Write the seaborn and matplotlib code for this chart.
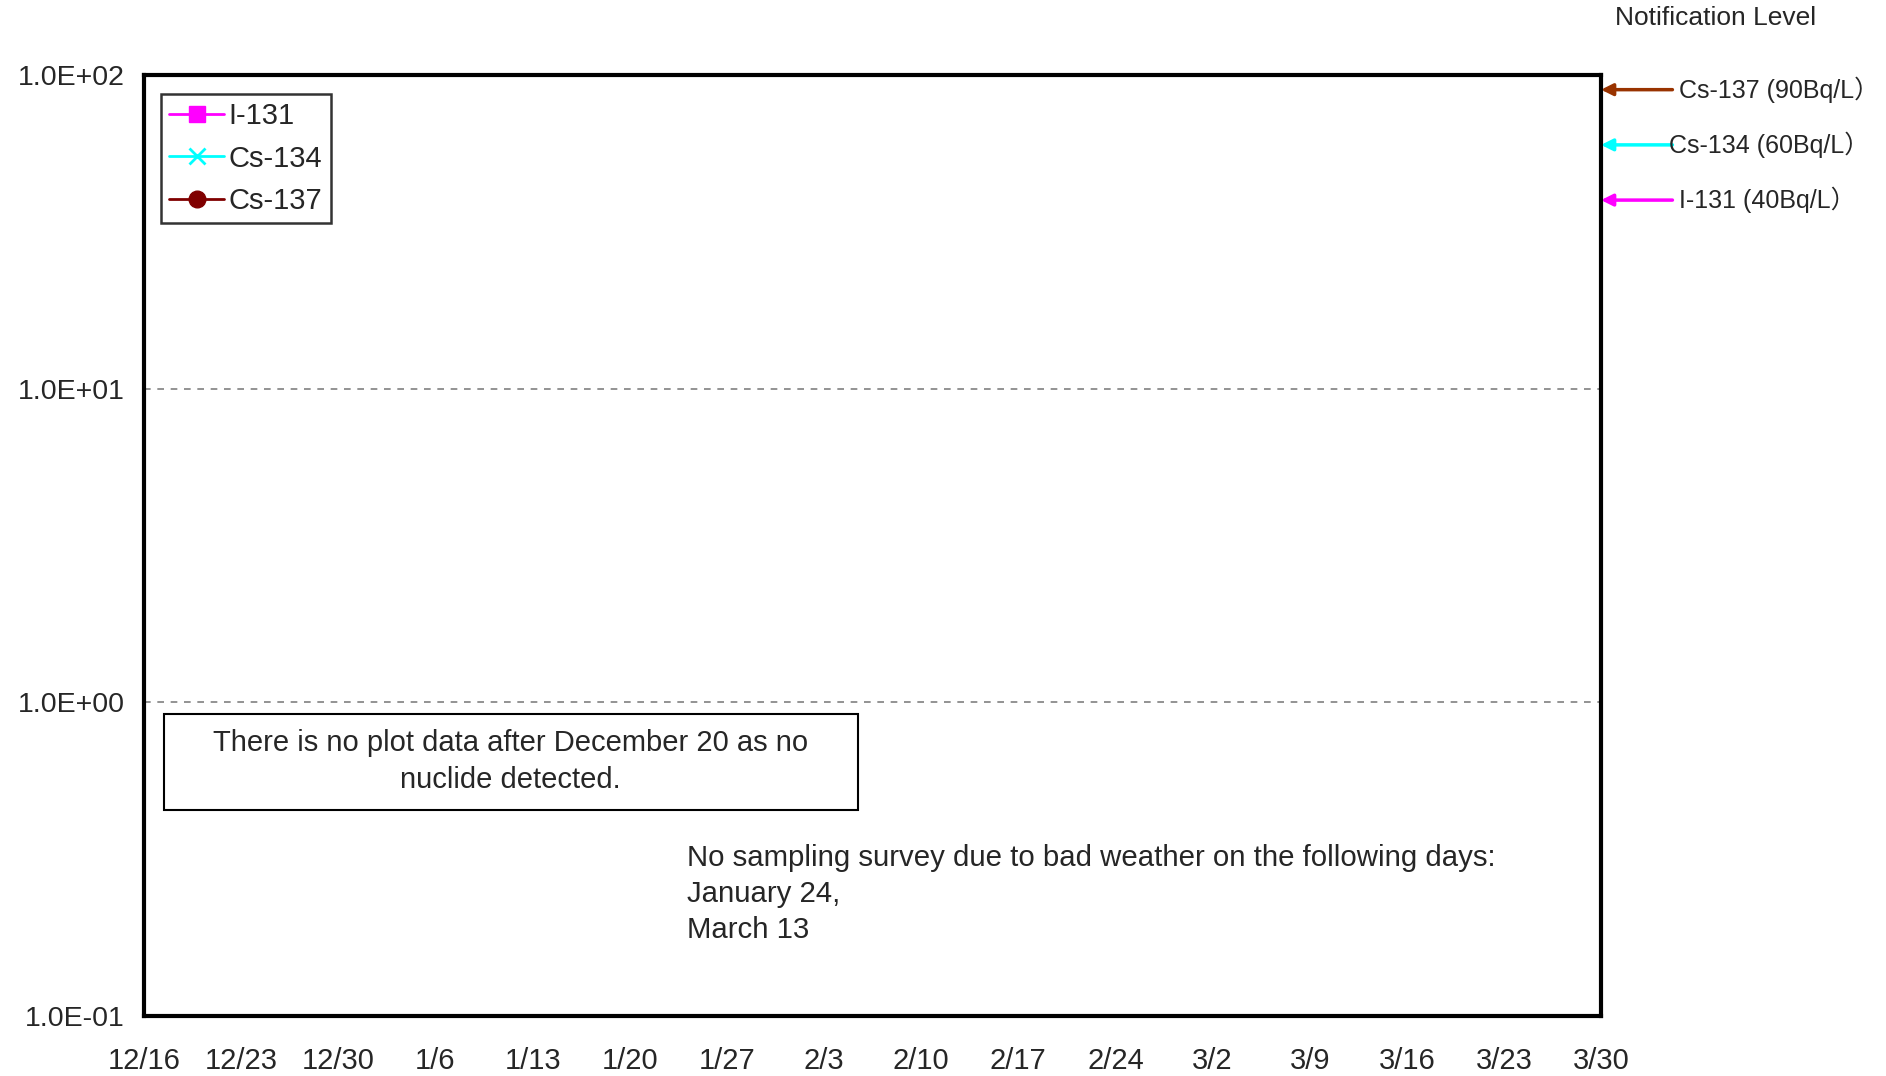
import matplotlib
matplotlib.use("Agg")
import matplotlib.pyplot as plt
from matplotlib import font_manager
from matplotlib.lines import Line2D
from matplotlib.patches import Rectangle
import seaborn as sns
import pandas as pd
import numpy as np

# ---------------- data ----------------
x_start = "2011-12-16"
x_end = "2012-03-30"
tick_dates = pd.date_range(x_start, x_end, freq="7D")
y_ticks = [0.1, 1.0, 10.0, 100.0]
y_tick_labels = ["1.0E-01", "1.0E+00", "1.0E+01", "1.0E+02"]

series_names = ["I-131", "Cs-134", "Cs-137"]
series_colors = ["#FF00FF", "#00FFFF", "#800000"]
series_markers = ["s", "x", "o"]
# no nuclide detected in this period -> no plotted points
sample_dates = []
i131_values = []
cs134_values = []
cs137_values = []

notif_names = ["Cs-137 (90Bq/L）", "Cs-134 (60Bq/L）", "I-131 (40Bq/L）"]
notif_levels = [90, 60, 40]
notif_colors = ["#993300", "#00FFFF", "#FF00FF"]

note_box = "There is no plot data after December 20 as no\nnuclide detected."
note_weather = ["No sampling survey due to bad weather on the following days:",
                "January 24,", "March 13"]

# ---------------- style ----------------
sns.set_style("white")
avail = {f.name for f in font_manager.fontManager.ttflist}
regular = "Liberation Sans" if "Liberation Sans" in avail else "DejaVu Sans"
plt.rcParams["font.family"] = [regular, "Noto Sans CJK JP", "DejaVu Sans"]

fig = plt.figure(figsize=(18.86, 10.76), dpi=100)
ax = fig.add_axes([0.0764, 0.0558, 0.7725, 0.8742])

handles = []
for name, col, mk, vals in zip(series_names, series_colors, series_markers,
                               [i131_values, cs134_values, cs137_values]):
    try:
        sns.lineplot(x=pd.to_datetime(sample_dates), y=np.array(vals, dtype=float),
                     ax=ax, color=col, marker=mk)
    except Exception:
        pass
    handles.append(Line2D([], [], color=col, marker=mk, lw=2, markersize=12,
                          markeredgewidth=2 if mk == "x" else 1, label=name))

ax.set_yscale("log")
ax.set_ylim(0.1, 100)
ax.set_xlim(pd.Timestamp(x_start), pd.Timestamp(x_end))
ax.set_yticks(y_ticks)
ax.set_yticklabels(y_tick_labels, fontsize=20.5)
ax.yaxis.set_minor_locator(matplotlib.ticker.NullLocator())
ax.tick_params(axis="y", length=0, pad=14)
ax.set_xticks(tick_dates)
ax.set_xticklabels([f"{d.month}/{d.day}" for d in tick_dates], fontsize=21)
ax.tick_params(axis="x", direction="in", length=8, width=1, color="#808080", pad=22)
ax.set_xlabel("")
ax.set_ylabel("")

for yv in [1.0, 10.0]:
    ax.axhline(yv, color="#808080", lw=1.2, ls=(0, (4, 4)), zorder=0)

for s in ax.spines.values():
    s.set_linewidth(3)
    s.set_color("black")
    s.set_visible(True)

leg = ax.legend(handles=handles, loc="upper left", bbox_to_anchor=(0.0115, 0.98),
                fontsize=21, frameon=True, fancybox=False, edgecolor="black",
                handlelength=1.9, handletextpad=0.15, borderpad=0.28, labelspacing=0.49,
                borderaxespad=0)
leg.get_frame().set_linewidth(1.8)

# notification level arrows
for name, lvl, col in zip(notif_names, notif_levels, notif_colors):
    ax.annotate("", xy=(1.0, lvl), xycoords=("axes fraction", "data"),
                xytext=(1.049, lvl), textcoords=("axes fraction", "data"),
                arrowprops=dict(arrowstyle="-|>,head_length=0.7,head_width=0.35",
                                color=col, lw=2.5, shrinkA=0, shrinkB=0),
                annotation_clip=False)
    tx = 1.0467 if name.startswith("Cs-134") else 1.0535
    ax.text(tx, lvl, name, transform=ax.get_yaxis_transform(), fontsize=18,
            va="center", ha="left", clip_on=False)

fig.text(1615 / 1886, 1 - 18 / 1076, "Notification Level", fontsize=19,
         ha="left", va="center")

ax.add_patch(Rectangle((0.0137, 0.219), 0.4763, 0.102, transform=ax.transAxes,
                       fc="white", ec="black", lw=1.5, zorder=3))
ax.text(0.2516, 0.2705, note_box, transform=ax.transAxes, ha="center", va="center",
        fontsize=21, linespacing=1.42, zorder=4)

for line, yy in zip(note_weather, [0.1683, 0.130, 0.0916]):
    ax.text(0.3727, yy, line, transform=ax.transAxes, ha="left", va="center",
            fontsize=21.2)

fig.savefig("out.png", dpi=100, facecolor="white")
